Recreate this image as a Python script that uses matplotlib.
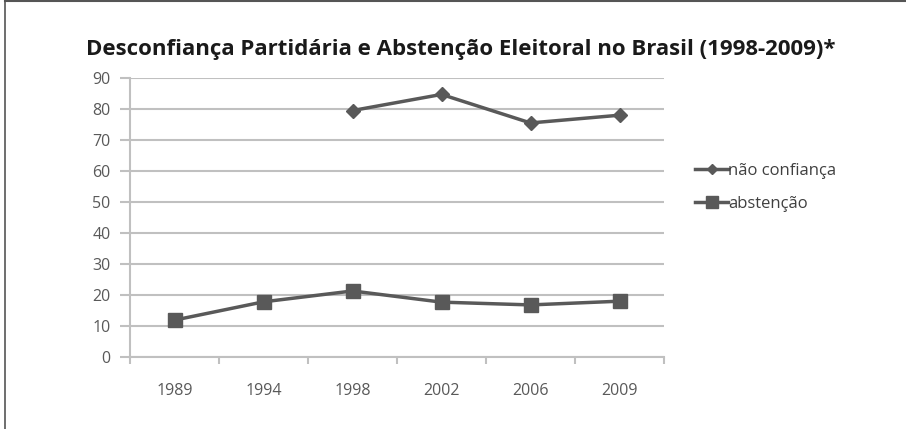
import matplotlib.pyplot as plt
import matplotlib.lines as mlines
import numpy as np

plt.rcParams['font.family'] = ['Open Sans', 'DejaVu Sans']

# Data
anos = ['1989', '1994', '1998', '2002', '2006', '2009']
nao_confianca = [np.nan, np.nan, 79.5, 84.7, 75.5, 78.0]
abstencao = [11.9, 17.8, 21.3, 17.7, 16.8, 18.0]
yticks = [0, 10, 20, 30, 40, 50, 60, 70, 80, 90]

line_color = '#595959'
grid_color = '#c0c0c0'
text_color = '#404040'

fig = plt.figure(figsize=(9.06, 4.29), dpi=100)
ax = fig.add_axes([130 / 906, 1 - 357 / 429, 534 / 906, 279 / 429])

x = np.arange(len(anos))
ax.plot(x, nao_confianca, color=line_color, linewidth=2.5, marker='D',
        markersize=7, label='não confiança')
ax.plot(x, abstencao, color=line_color, linewidth=2.5, marker='s',
        markersize=10, label='abstenção')

ax.set_xlim(-0.5, len(anos) - 0.5)
ax.set_ylim(0, 90)
ax.set_yticks(yticks)
ax.set_yticklabels([str(v) for v in yticks])
ax.set_xticks(x)
ax.set_xticklabels(anos)
ax.set_xticks(np.arange(len(anos) + 1) - 0.5, minor=True)

ax.grid(axis='y', color=grid_color, linewidth=1.5)
ax.set_axisbelow(True)
for side in ['top', 'right']:
    ax.spines[side].set_visible(False)
for side in ['left', 'bottom']:
    ax.spines[side].set_color(grid_color)
    ax.spines[side].set_linewidth(1.5)

ax.tick_params(axis='y', length=7, width=1.5, color=grid_color, pad=7,
               labelsize=11.5, labelcolor='#595959')
ax.tick_params(axis='x', which='major', length=0, pad=19,
               labelsize=11.5, labelcolor='#595959')
ax.tick_params(axis='x', which='minor', length=5, width=1.5, color=grid_color)

# Legend
handles = [
    mlines.Line2D([], [], color=line_color, linewidth=2.5, marker='D', markersize=5),
    mlines.Line2D([], [], color=line_color, linewidth=2.5, marker='s', markersize=8),
]
fig.legend(handles, ['não confiança', 'abstenção'], loc='upper left',
           bbox_to_anchor=(680 / 906, 1 - 148 / 429), frameon=False,
           fontsize=12, labelcolor=text_color, handlelength=2.0,
           handletextpad=0.0, labelspacing=1.0)

fig.text(461 / 906, 1 - 50 / 429,
         'Desconfiança Partidária e Abstenção Eleitoral no Brasil (1998-2009)*',
         ha='center', va='center', fontsize=16, fontweight='bold', color='#1a1a1a')

# Frame lines (top and left)
fig.add_artist(mlines.Line2D([5 / 906, 1], [1 - 1 / 429, 1 - 1 / 429],
                             color='#555555', linewidth=1.5))
fig.add_artist(mlines.Line2D([5 / 906, 5 / 906], [0, 1 - 1 / 429],
                             color='#555555', linewidth=1.2))

fig.savefig('out.png', dpi=100)
